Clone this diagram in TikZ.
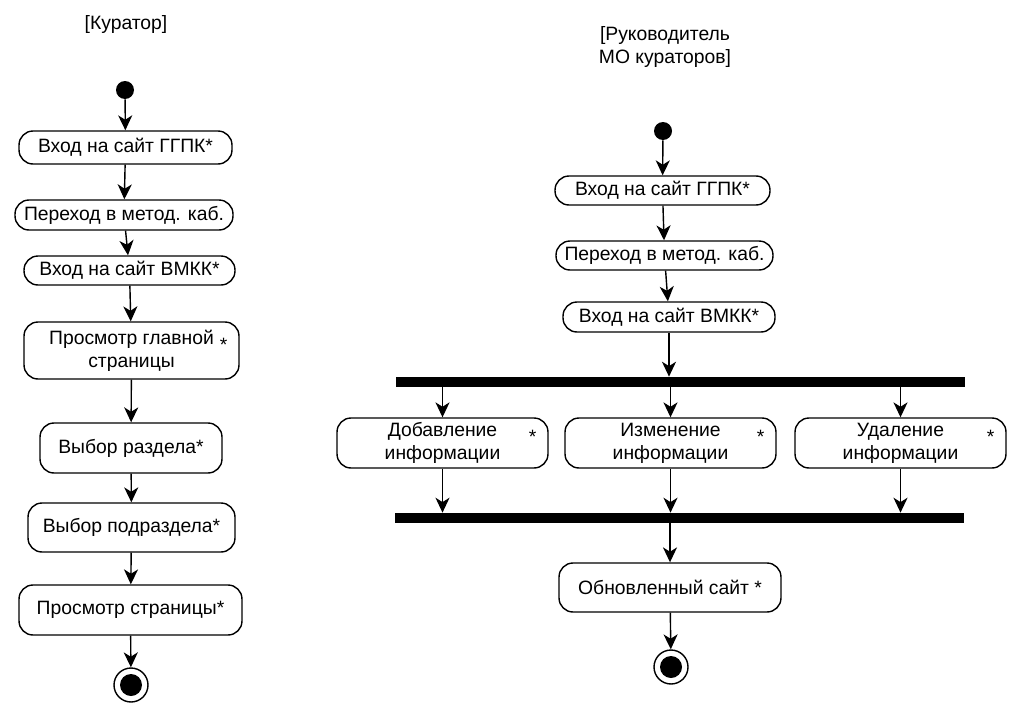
\documentclass[tikz,border=0pt]{standalone}
\usepackage{fontspec}
\setmainfont{Liberation Sans}
\usetikzlibrary{arrows.meta}
\usetikzlibrary{calc}

\begin{document}
\begin{tikzpicture} [x=0.02cm,y=-0.02cm,
  act/.style={draw,line width=0.8pt,rounded corners=0.28cm,align=center,inner sep=0pt,font=\fontsize{11}{13}\selectfont},
  lbl/.style={align=center,inner sep=0pt,font=\fontsize{11}{13}\selectfont},
  bar/.style={fill=black,inner sep=0pt,minimum width=11.38cm,minimum height=0.2cm},
  start/.style={circle,fill=black,inner sep=0pt,minimum size=0.36cm},
  stop/.style={circle,draw,line width=0.8pt,inner sep=0pt,minimum size=0.68cm},
  flow/.style={line width=0.8pt,-{Stealth[length=8.5pt,width=8pt,inset=2.5pt]}}]
\useasboundingbox (0,0) rectangle (1020,713);
\node[lbl] (tk) at (126,25) {[Куратор]};
\node[start] (k0) at (125,90) {};
\node[act,minimum width=4.26cm,minimum height=0.66cm] (k1) at (125.5,147.5) {Вход на сайт ГГПК*};
\node[act,minimum width=4.36cm,minimum height=0.6cm] (k2) at (124,215) {Переход в метод. каб.};
\node[act,minimum width=4.22cm,minimum height=0.58cm] (k3) at (129.5,270.5) {Вход на сайт ВМКК*};
\node[act,minimum width=4.3cm,minimum height=1.14cm] (k4) at (131.5,350.5) {Просмотр главной\\страницы};
\node[lbl] (k4s) at ($(k4.east)+(-16,-6)$) {*};
\node[act,minimum width=3.64cm,minimum height=1cm] (k5) at (131,448) {Выбор раздела*};
\node[act,minimum width=4.14cm,minimum height=0.98cm] (k6) at (131.5,527.5) {Выбор подраздела*};
\node[act,minimum width=4.46cm,minimum height=1cm] (k7) at (130.5,610) {Просмотр страницы*};
\node[stop] (ke) at (131,685) {};
\node[start,minimum size=0.44cm] (kf) at (ke) {};
\foreach \a/\b in {k0/k1,k1/k2,k2/k3,k3/k4,k4/k5,k5/k6,k6/k7,k7/ke} {
 \draw[flow] (\a) -- (\b);
}

\node[lbl] (tr) at (665,47) {[Руководитель\\МО кураторов]};
\node[start] (r0) at (663,131) {};
\node[act,minimum width=4.3cm,minimum height=0.58cm] (r1) at (662.5,190.5) {Вход на сайт ГГПК*};
\node[act,minimum width=4.34cm,minimum height=0.58cm] (r2) at (664.5,255.5) {Переход в метод. каб.};
\node[act,minimum width=4.24cm,minimum height=0.6cm] (r3) at (669,317) {Вход на сайт ВМКК*};
\node[bar] (bar1) at (680.5,382) {};
\node[act,minimum width=4.22cm,minimum height=1cm] (d1) at (442.5,443) {Добавление\\информации};
\node[act,minimum width=4.22cm,minimum height=1cm] (d2) at (670.5,443) {Изменение\\информации};
\node[act,minimum width=4.22cm,minimum height=1cm] (d3) at (900.5,443) {Удаление\\информации};
\node[bar] (bar2) at (679.5,518) {};
\node[act,minimum width=4.44cm,minimum height=0.98cm] (r4) at (670,587.5) {Обновленный сайт *};
\node[stop] (re) at (671,667) {};
\node[start,minimum size=0.44cm] (rf) at (re) {};
\foreach \a/\b in {r0/r1,r1/r2,r2/r3,r4/re} {
 \draw[flow] (\a) -- (\b);
}
\draw[flow] (r3) -- (r3.south |- bar1.north);
\foreach \d in {d1,d2,d3} {
 \node[lbl] (\d s) at ($(\d.east)+(-16,-6)$) {*};
 \draw[flow] (\d.north |- bar1.south) -- (\d);
 \draw[flow] (\d) -- (\d.south |- bar2.north);
}
\draw[flow] (r4.north |- bar2.south) -- (r4);
\end{tikzpicture}
\end{document}
